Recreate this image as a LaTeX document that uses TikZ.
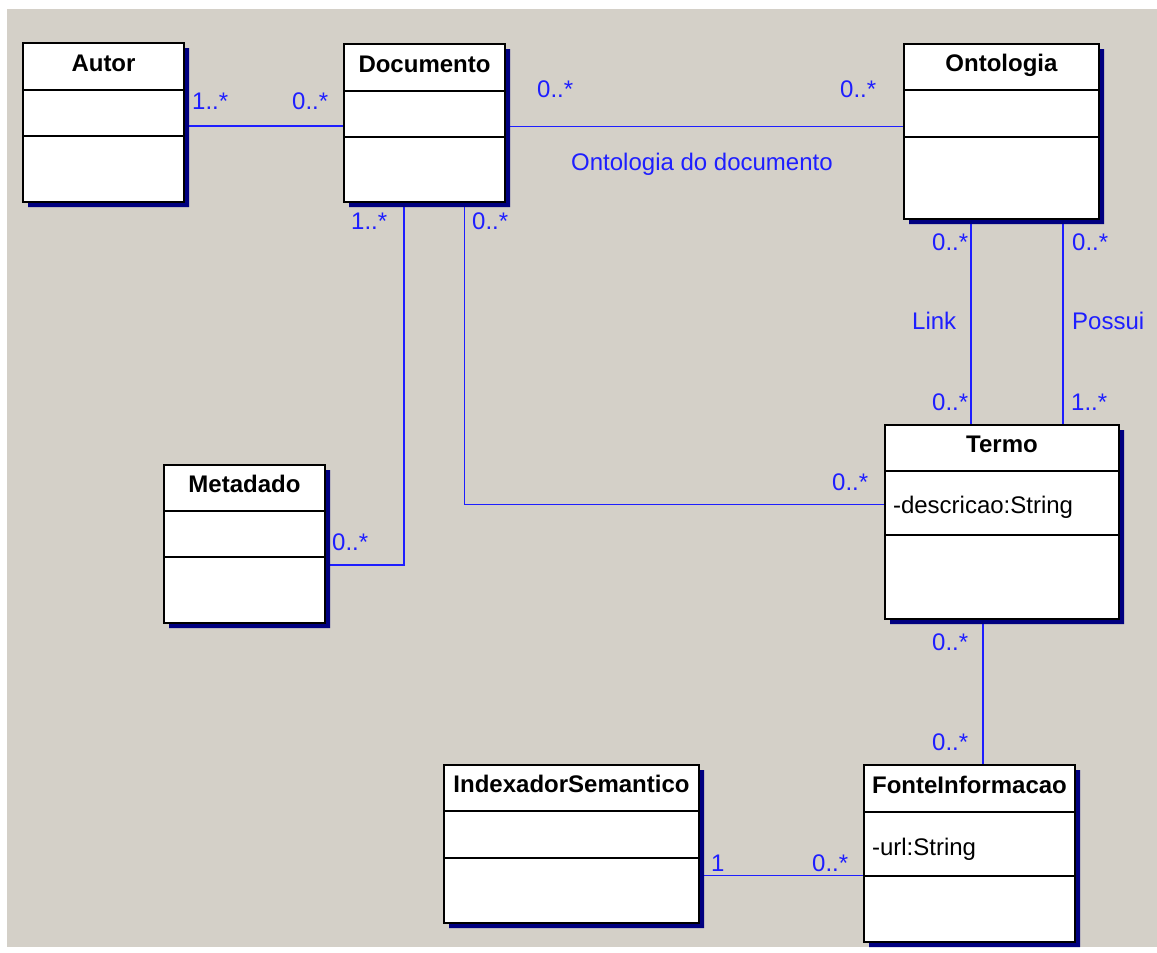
\documentclass[tikz,border=0pt]{standalone}
\usepackage{fontspec}
\setmainfont{Liberation Sans}
\usetikzlibrary{positioning,shapes.multipart,shadows,backgrounds}
\definecolor{winbg}{RGB}{212,208,200}
\definecolor{assocblue}{RGB}{30,30,255}
\definecolor{shadownavy}{RGB}{0,0,128}

\begin{document}
\begin{tikzpicture}[x=1pt, y=-1pt,
		umlclass/.style={rectangle split, rectangle split parts=3,
			rectangle split part align={center,left,left},
			draw=black, line width=1.5pt, fill=white,
			inner xsep=8pt, inner ysep=0pt, outer sep=0pt, anchor=north west,
			font=\fontsize{24}{28}\selectfont,
			drop shadow={shadow xshift=5pt, shadow yshift=-5pt, fill=shadownavy, opacity=1}},
		assoc/.style={draw=assocblue, line width=1.8pt},
		mult/.style={text=assocblue, font=\fontsize{24}{28}\selectfont, inner sep=0pt, anchor=base west}
	]
	\useasboundingbox (0,0) rectangle (1157,953);
	% classes
	\node[umlclass, minimum width=161pt] (autor) at (23,43)
		{\textbf{Autor}\rule[-17.5pt]{0pt}{45.5pt}\nodepart{two}\rule{0pt}{44.5pt}\nodepart{three}\rule{0pt}{64.5pt}};
	\node[umlclass, minimum width=161pt] (documento) at (344,44)
		{\textbf{Documento}\rule[-17.5pt]{0pt}{45.5pt}\nodepart{two}\rule{0pt}{44.5pt}\nodepart{three}\rule{0pt}{63.5pt}};
	\node[umlclass, minimum width=195pt] (ontologia) at (904,44)
		{\textbf{Ontologia}\rule[-17.5pt]{0pt}{44.5pt}\nodepart{two}\rule{0pt}{45.5pt}\nodepart{three}\rule{0pt}{80.5pt}};
	\node[umlclass, minimum width=161pt] (metadado) at (164,465)
		{\textbf{Metadado}\rule[-17.5pt]{0pt}{44.5pt}\nodepart{two}\rule{0pt}{44.5pt}\nodepart{three}\rule{0pt}{64.5pt}};
	\node[umlclass, minimum width=234pt] (termo) at (885,425)
		{\textbf{Termo}\rule[-17.5pt]{0pt}{44.5pt}\nodepart{two}-descricao:String\rule[-20.5pt]{0pt}{62.5pt}\nodepart{three}\rule{0pt}{82.5pt}};
	\node[umlclass, minimum width=255pt] (indexador) at (444,765)
		{\textbf{IndexadorSemantico}\rule[-17.5pt]{0pt}{44.5pt}\nodepart{two}\rule{0pt}{45.5pt}\nodepart{three}\rule{0pt}{63.5pt}};
	\node[umlclass, minimum width=211pt] (fonte) at (864,765)
		{\textbf{FonteInformacao}\rule[-17.5pt]{0pt}{45.5pt}\nodepart{two}-url:String\rule[-19.5pt]{0pt}{62.5pt}\nodepart{three}\rule{0pt}{64.5pt}};
	% multiplicities and roles
	\node[mult] (autordoc) at (192,109) {1..*};
	\node[mult] (docautor) at (292,109) {0..*};
	\node[mult] (docont) at (537,97) {0..*};
	\node[mult] (ontdoc) at (840,97) {0..*};
	\node[mult] (ontdoclabel) at (571,170) {Ontologia do documento};
	\node[mult] (docmeta) at (351,229) {1..*};
	\node[mult] (doctermo) at (472,229) {0..*};
	\node[mult] (ontlink) at (932,250) {0..*};
	\node[mult] (ontpossui) at (1072,250) {0..*};
	\node[mult] (linklabel) at (912,329) {Link};
	\node[mult] (possuilabel) at (1072,329) {Possui};
	\node[mult] (termolink) at (932,410) {0..*};
	\node[mult] (termopossui) at (1071,410) {1..*};
	\node[mult] (termodoc) at (832,490) {0..*};
	\node[mult] (metadoc) at (332,550) {0..*};
	\node[mult] (termofonte) at (932,650) {0..*};
	\node[mult] (fontetermo) at (932,750) {0..*};
	\node[mult] (indexfonte) at (711,871) {1};
	\node[mult] (fonteindex) at (812,871) {0..*};
	\begin{scope}[on background layer]
	\fill[winbg] (7,9) rectangle (1157,947);
	\draw[assoc] ([yshift=-3.5pt]autor.east) -- ([yshift=-3.5pt]autor.east -| documento.west);
	\draw[assoc] ([yshift=-3.5pt]documento.east) -- ([yshift=-3.5pt]documento.east -| ontologia.west);
	\draw[assoc] ([xshift=-20.5pt]documento.south) |- ([yshift=-21pt]metadado.east);
	\draw[assoc] ([xshift=40pt]documento.south) |- ([yshift=17.5pt]termo.west);
	\draw[assoc] ([xshift=-30.5pt]ontologia.south) -- ([xshift=-30.5pt]ontologia.south |- termo.north);
	\draw[assoc] ([xshift=61.5pt]ontologia.south) -- ([xshift=61.5pt]ontologia.south |- termo.north);
	\draw[assoc] ([xshift=-19pt]termo.south) -- ([xshift=-19pt]termo.south |- fonte.north);
	\draw[assoc] ([yshift=-31.5pt]indexador.east) -- ([yshift=-31.5pt]indexador.east -| fonte.west);
	\end{scope}
\end{tikzpicture}
\end{document}
